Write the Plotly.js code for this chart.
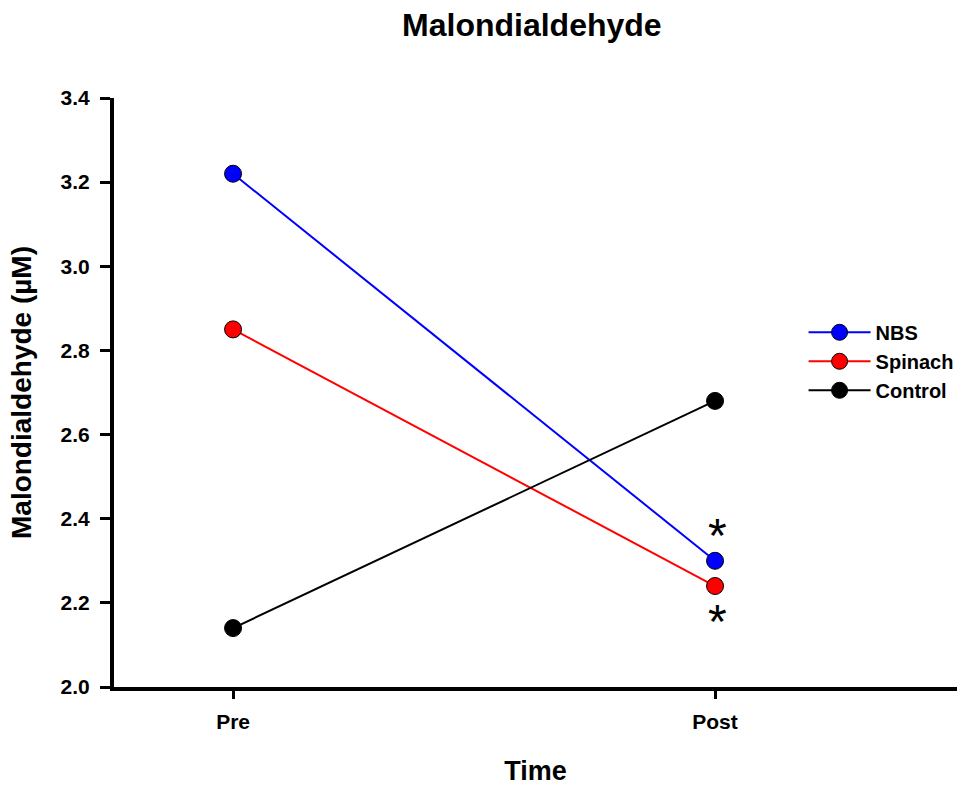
<!DOCTYPE html>
<html>
<head>
<meta charset="utf-8">
<script src="https://cdn.plot.ly/plotly-3.0.1.min.js"></script>
<style>html,body{margin:0;padding:0;background:#fff;}#chart{width:967px;height:786px;}</style>
</head>
<body>
<div id="chart"></div>
<script>
const timepoints = ['Pre', 'Post'];
const seriesNames = ['NBS', 'Spinach', 'Control'];
const nbsValues = [3.22, 2.30];
const spinachValues = [2.85, 2.24];
const controlValues = [2.14, 2.68];
const yTickValues = [2.0, 2.2, 2.4, 2.6, 2.8, 3.0, 3.2, 3.4];
const yTickLabels = ['2.0', '2.2', '2.4', '2.6', '2.8', '3.0', '3.2', '3.4'];
// significance markers: series index, time index, label
const sigSeries = [0, 1];
const sigTime = [1, 1];
const sigLabels = ['*', '*'];

const colors = ['#0000ff', '#ff0000', '#000000'];
const allValues = [nbsValues, spinachValues, controlValues];
const FONT = 'Liberation Sans, Arial, sans-serif';

const traces = allValues.map((vals, i) => ({
  type: 'scatter',
  mode: 'lines+markers',
  name: seriesNames[i],
  x: timepoints,
  y: vals,
  line: {color: colors[i], width: 2},
  marker: {color: colors[i], size: 17, line: {color: '#000', width: 1}},
  cliponaxis: false
}));

const sigShift = [25, -35];
const annotations = sigLabels.map((lab, k) => ({
  x: timepoints[sigTime[k]],
  y: allValues[sigSeries[k]][sigTime[k]],
  xref: 'x', yref: 'y',
  text: lab,
  showarrow: false,
  xshift: 2,
  yshift: sigShift[k],
  font: {family: FONT, size: 48, color: '#000'}
}));

const layout = {
  width: 967, height: 786,
  margin: {l: 114, r: 10, t: 98, b: 99, pad: 0, autoexpand: false},
  paper_bgcolor: '#fff', plot_bgcolor: '#fff',
  showlegend: true,
  title: {text: '<b>Malondialdehyde</b>', x: 0.55, xanchor: 'center', y: 0.968, yanchor: 'middle',
          font: {family: FONT, size: 32, color: '#000'}},
  xaxis: {
    type: 'category',
    range: [-0.247, 1.502],
    showgrid: false, zeroline: false,
    showline: true, linecolor: '#000', linewidth: 4,
    ticks: 'outside', ticklen: 8, tickwidth: 3, tickcolor: '#000',
    ticklabelstandoff: 5,
    tickfont: {family: FONT, size: 21, color: '#000', weight: 'bold'},
    title: {text: '<b>Time</b>', font: {family: FONT, size: 27, color: '#000'}, standoff: 30}
  },
  yaxis: {
    range: [2.0, 3.4],
    tickvals: yTickValues, ticktext: yTickLabels,
    showgrid: false, zeroline: false,
    showline: true, linecolor: '#000', linewidth: 4,
    ticks: 'outside', ticklen: 10, tickwidth: 3, tickcolor: '#000',
    ticklabelstandoff: 6,
    tickfont: {family: FONT, size: 21, color: '#000', weight: 'bold'},
    title: {text: '<b>Malondialdehyde (µM)</b>', font: {family: FONT, size: 28, color: '#000'}, standoff: 22}
  },
  legend: {
    x: 0.818, xanchor: 'left', y: 0.553, yanchor: 'middle',
    bgcolor: 'rgba(0,0,0,0)', borderwidth: 0,
    font: {family: FONT, size: 20, color: '#000', weight: 'bold'},
    tracegroupgap: 0, itemwidth: 62
  },
  annotations: annotations
};

Plotly.newPlot('chart', traces, layout, {displayModeBar: false, staticPlot: true});
</script>
</body>
</html>
